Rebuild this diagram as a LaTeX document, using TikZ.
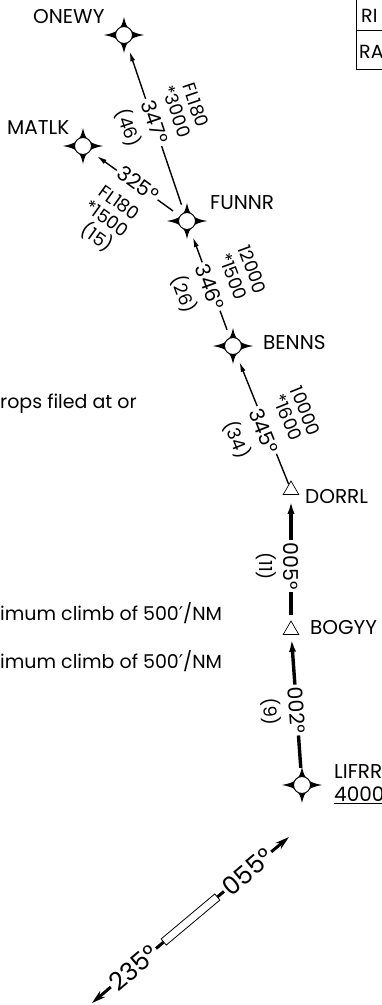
\documentclass[tikz,border=0pt]{standalone}
\usepackage{fontspec}
\setmainfont{Poppins}
\newfontfamily\symfont{DejaVu Sans}
\usetikzlibrary{arrows.meta}
\usetikzlibrary{shapes.geometric}
\usetikzlibrary{positioning}
\tikzset{wpt/.style = {circle, inner sep = 0, minimum size = 34}}
\tikzset{rptfix/.style = {regular polygon, regular polygon sides = 3, draw, fill = white,
                          inner sep = 0, minimum size = 18, line width = 0.7}}
\tikzset{flyby/.pic = {\fill (20, 0) .. controls (6, 2.5) and (2.5, 6) .. (0, 18)
                             .. controls (-2.5, 6) and (-6, 2.5) .. (-20, 0)
                             .. controls (-6, -2.5) and (-2.5, -6) .. (0, -18)
                             .. controls (2.5, -6) and (6, -2.5) .. (20, 0) -- cycle;
                       \filldraw [fill = white, line width = 1] (0, 0) circle (8.5pt);}}
\tikzset{wptname/.style = {font = \fontsize{20}{22}\selectfont, inner sep = 0, anchor = west}}
\tikzset{note/.style = {font = \fontsize{19}{21}\selectfont, inner sep = 0, anchor = base west}}
\tikzset{crs/.style = {font = \fontsize{20.5}{22}\selectfont, fill = white, inner sep = 2.5}}
\tikzset{alt/.style = {font = \fontsize{18}{20}\selectfont, inner sep = 0}}
\tikzset{leg/.style = {line width = 1.4, -{Latex[length = 10pt, width = 5pt]}}}
\tikzset{legthick/.style = {line width = 3.4, -{Latex[length = 14pt, width = 7pt]}}}
\tikzset{rwy/.style = {rectangle, draw, fill = white, inner sep = 0, minimum width = 70,
                       minimum height = 8, line width = 0.8}}
\tikzset{rwyarrow/.style = {line width = 3, -{Stealth[length = 14pt, width = 8pt]}}}
\tikzset{rwycrs/.style = {font = \fontsize{25}{26}\selectfont, fill = white, inner sep = 2}}
\begin{document}
\begin{tikzpicture}[x = 1pt, y = -1pt]
      \useasboundingbox (0, 0) rectangle (382, 1005);
      \clip (0, 0) rectangle (382, 1005);

      % waypoints
      \node [wpt] (onewy) at (124, 35) {};
      \node [wpt] (matlk) at (83, 146) {};
      \node [wpt] (funnr) at (187, 221) {};
      \node [wpt] (benns) at (233, 346) {};
      \node [wpt] (lifrr) at (302, 785) {};
      \pic at (onewy) {flyby};
      \pic at (matlk) {flyby};
      \pic at (funnr) {flyby};
      \pic at (benns) {flyby};
      \pic at (lifrr) {flyby};
      \node [rptfix] (dorrl) at (291, 490) {};
      \node [rptfix] (bogyy) at (291, 630) {};

      \node [wptname] (onewyname) at (33, 17) {ONEWY};
      \node [wptname] (matlkname) at (7, 128) {MATLK};
      \node [wptname] (funnrname) at (210, 203) {FUNNR};
      \node [wptname] (bennsname) at (263, 343) {BENNS};
      \node [wptname] (dorrlname) at (305, 497) {DORRL};
      \node [wptname] (bogyyname) at (310, 628) {BOGYY};
      \node [wptname] (lifrrname) at (334, 772) {LIFRR};
      \node [wptname] (lifrralt) at (334, 795) {\underline{4000}};

      % legs
      \draw [leg] (funnr) -- (onewy);
      \draw [leg] (funnr) -- (matlk);
      \draw [leg] (benns) -- (funnr);
      \draw [leg] (dorrl) -- (benns);
      \draw [legthick, shorten <= 5pt, shorten >= 5pt] (bogyy) -- (dorrl);
      \draw [legthick, shorten >= 3pt] (lifrr) -- (bogyy);

      \begin{scope}[shift = {(155, 122)}, rotate = -71.3, transform shape, y = 1pt]
        \node [crs] (crs347) at (0, 0) {347°};
        \node [alt] (alt347) at (-3, 24) {*3000};
        \node [alt] (top347) at (-3, 44) {FL180};
        \node [alt] (dst347) at (-3, -27) {(46)};
      \end{scope}
      \begin{scope}[shift = {(138, 184)}, rotate = -35.8, transform shape, y = 1pt]
        \node [crs] (crs325) at (0, 0) {325°};
        \node [alt] (top325) at (-4, -26) {FL180};
        \node [alt] (alt325) at (-5, -46) {*1500};
        \node [alt] (dst325) at (-2, -67) {(15)};
      \end{scope}
      \begin{scope}[shift = {(210, 287)}, rotate = -69.8, transform shape, y = 1pt]
        \node [crs] (crs346) at (0, 0) {346°};
        \node [alt] (alt346) at (-2, 25) {*1500};
        \node [alt] (top346) at (-2, 46) {12000};
        \node [alt] (dst346) at (-2, -27) {(26)};
      \end{scope}
      \begin{scope}[shift = {(264, 431)}, rotate = -68.1, transform shape, y = 1pt]
        \node [crs] (crs345) at (0, 0) {345°};
        \node [alt] (alt345) at (-4, 27) {*1600};
        \node [alt] (top345) at (-3, 46) {10000};
        \node [alt] (dst345) at (-2, -28) {(34)};
      \end{scope}
      \begin{scope}[shift = {(291, 566)}, rotate = -90, transform shape, y = 1pt]
        \node [crs] (crs005) at (0, 0) {005°};
        \node [alt] (dst005) at (0, -25) {(11)};
      \end{scope}
      \begin{scope}[shift = {(297, 710)}, rotate = -86, transform shape, y = 1pt]
        \node [crs] (crs002) at (0, 0) {002°};
        \node [alt] (dst002) at (0, -26) {(9)};
      \end{scope}

      % runway
      \node [rwy, rotate = 40] (rwy) at (190.5, 919.5) {};
      \coordinate (rwyne) at (289, 837);
      \coordinate (rwysw) at (92, 1003);
      \draw [rwyarrow] (rwy.east) -- node [rwycrs, pos = 0.42, sloped] (crs055) {055°} (rwyne);
      \draw [rwyarrow] (rwy.west) -- node [rwycrs, pos = 0.42, sloped] (crs235) {235°} (rwysw);

      % notes and table
      \node [note] (note1) at (0, 408) {rops filed at or};
      \node [note] (note2) at (0, 620) {imum climb of 500{\symfont ′}/NM};
      \node [note] (note3) at (0, 668) {imum climb of 500{\symfont ′}/NM};
      \draw [line width = 1] (356, -2) -- (356, 69) -- (384, 69);
      \draw [line width = 1] (356, 30) -- (384, 30);
      \node [note] (tblrow1) at (361, 22) {RI};
      \node [note] (tblrow2) at (359, 58) {RA};
    \end{tikzpicture}
\end{document}
